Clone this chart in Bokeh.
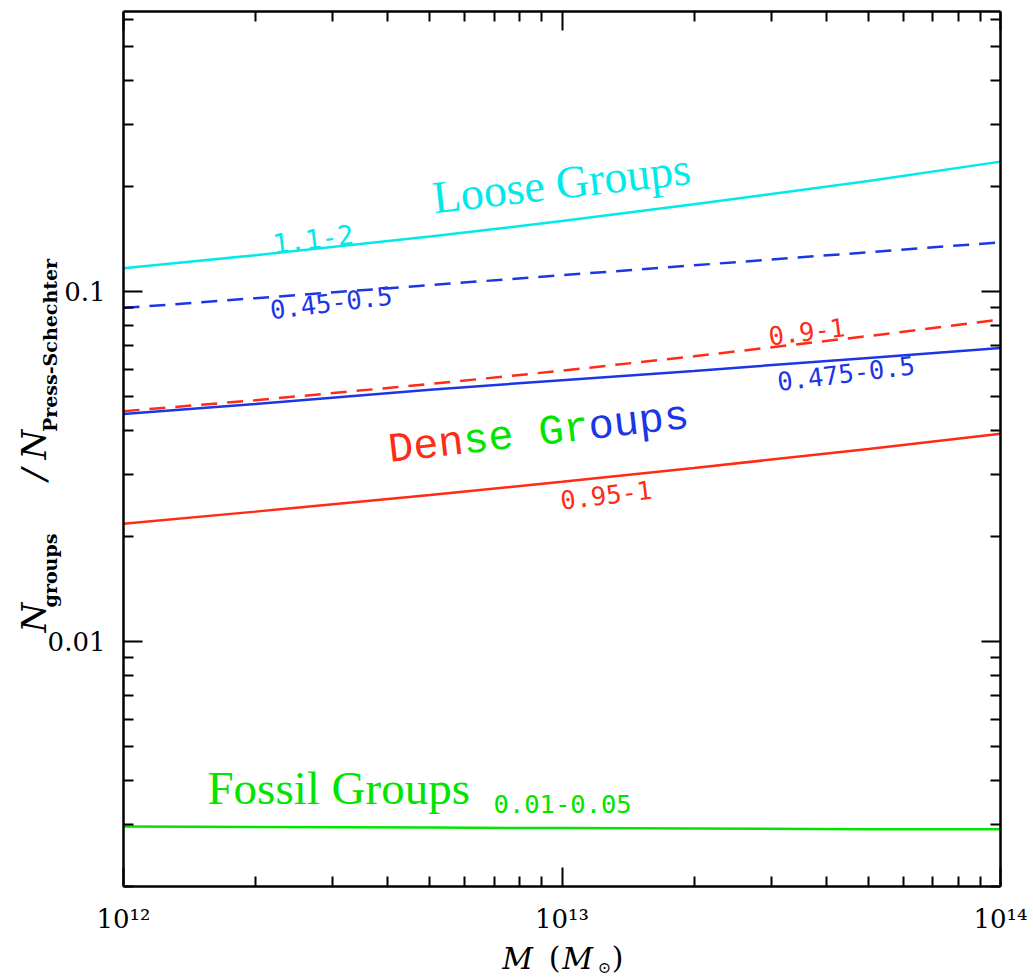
import json
import math

from bokeh.core.properties import value
from bokeh.embed import file_html
from bokeh.models import (ColumnDataSource, CustomJSTickFormatter, FixedTicker,
                          LinearAxis, LinearScale, LogAxis, Range1d)
from bokeh.plotting import figure
from bokeh.resources import INLINE

# ---- data -------------------------------------------------------------
mass = [1e12, 2e12, 5e12, 1e13, 2e13, 5e13, 1e14]

loose_11_2 = [0.1165, 0.127, 0.1435, 0.159, 0.1775, 0.207, 0.235]
blue_045_05 = [0.0897, 0.0957, 0.1043, 0.1113, 0.1188, 0.1295, 0.1382]
red_09_1 = [0.0455, 0.0489, 0.0544, 0.0594, 0.0653, 0.0746, 0.0832]
blue_0475_05 = [0.0447, 0.0477, 0.0524, 0.0558, 0.0593, 0.0646, 0.0690]
red_095_1 = [0.0217, 0.0235, 0.0262, 0.0286, 0.0313, 0.0355, 0.0392]
fossil_001_005 = [0.00296, 0.00295, 0.00294, 0.00293, 0.00292, 0.00291, 0.00291]

x_major = [1e12, 1e13, 1e14]
y_major = [0.01, 0.1]

# curve tags: text, anchor mass, anchor ratio
tag_text = ["1.1-2", "0.45-0.5", "0.9-1", "0.475-0.5", "0.95-1", "0.01-0.05"]
tag_mass = [2.19e12, 2.16e12, 2.96e13, 3.10e13, 9.92e12, 6.98e12]
tag_ratio = [0.1369, 0.0883, 0.0744, 0.0551, 0.02522, 0.003432]

CYAN = "#00eaea"
BLUE = "#1c36e6"
RED = "#ff2b16"
GREEN = "#00e400"

tag_color = [CYAN, BLUE, RED, BLUE, RED, GREEN]
tag_angle = [7, 7, 7, 7, 7, 0]
tag_size = ["27px", "25.5px", "25.5px", "25.5px", "25.5px", "25.5px"]

# ---- figure -----------------------------------------------------------
LEFT, RIGHT, TOP, BOTTOM = 123, 33, 11, 94
W, H = 1033, 980
FW, FH = W - LEFT - RIGHT, H - TOP - BOTTOM

p = figure(width=W, height=H, x_axis_type="log", y_axis_type="log",
           x_range=Range1d(1e12, 1e14), y_range=Range1d(10 ** -2.7, 10 ** -0.2),
           output_backend="svg", toolbar_location=None,
           min_border_left=LEFT, min_border_right=RIGHT,
           min_border_top=TOP, min_border_bottom=BOTTOM)
p.grid.visible = False
p.outline_line_color = None
p.background_fill_color = "white"
p.border_fill_color = "white"

x_minor = [m * 10 ** e for e in (12, 13) for m in range(2, 10)]
y_minor = [m * 10 ** e for e in (-3, -2, -1) for m in range(2, 10)
           if 10 ** -2.7 < m * 10 ** e < 10 ** -0.2]
x_ticker = FixedTicker(ticks=x_major, minor_ticks=x_minor)
y_ticker = FixedTicker(ticks=y_major, minor_ticks=y_minor)

x_fmt = CustomJSTickFormatter(code="""
const sup = {"0":"\u2070","1":"\u00b9","2":"\u00b2","3":"\u00b3","4":"\u2074","5":"\u2075",
             "6":"\u2076","7":"\u2077","8":"\u2078","9":"\u2079","-":"\u207b"};
const e = Math.round(Math.log10(tick));
return "10" + String(e).split("").map(c => sup[c]).join("");
""")
y_fmt = CustomJSTickFormatter(code="""
const e = Math.round(Math.log10(tick));
return tick.toFixed(Math.max(0, -e));
""")
blank_fmt = CustomJSTickFormatter(code="return '';")

top_axis = LogAxis()
right_axis = LogAxis()
p.add_layout(top_axis, "above")
p.add_layout(right_axis, "right")

for ax in list(p.xaxis) + list(p.yaxis):
    ax.axis_line_width = 2.5
    ax.axis_line_color = "black"
    ax.major_tick_in = 19
    ax.major_tick_out = 0
    ax.minor_tick_in = 10
    ax.minor_tick_out = 0
    ax.major_tick_line_width = 2
    ax.minor_tick_line_width = 2
    ax.major_tick_line_color = "black"
    ax.minor_tick_line_color = "black"
    ax.major_label_text_font = "DejaVu Serif"
    ax.major_label_text_font_size = "26px"
    ax.major_label_text_color = "black"

for ax in p.xaxis:
    ax.ticker = x_ticker
for ax in p.yaxis:
    ax.ticker = y_ticker

p.below[0].formatter = x_fmt
p.below[0].major_label_standoff = 17
p.left[0].formatter = y_fmt
p.left[0].major_label_standoff = 18
for ax in (top_axis, right_axis):
    ax.formatter = blank_fmt
    ax.major_label_text_font_size = "1px"
    ax.major_label_standoff = 0

# ---- axis titles --------------------------------------------------------
# Each title is set as tick labels of a bare helper axis running in frame
# pixels, so that italic / upright / subscript parts can sit side by side.
p.extra_x_ranges = {"px": Range1d(0, FW)}
p.extra_y_ranges = {"py": Range1d(0, FH)}
p.extra_x_scales = {"px": LinearScale()}
p.extra_y_scales = {"py": LinearScale()}


def title_axis(kind, side, spots, words, size, style, standoff, orient="horizontal"):
    fmt = CustomJSTickFormatter(code=f"""
const spots = {json.dumps(spots)};
const words = {json.dumps(words)};
const k = spots.indexOf(Math.round(tick));
return k >= 0 ? words[k] : "";
""")
    if kind == "x":
        ax = LinearAxis(x_range_name="px")
    else:
        ax = LinearAxis(y_range_name="py")
    ax.ticker = FixedTicker(ticks=spots, minor_ticks=[])
    ax.formatter = fmt
    ax.axis_line_color = None
    ax.major_tick_line_color = None
    ax.minor_tick_line_color = None
    ax.major_tick_in = 0
    ax.major_tick_out = 0
    ax.minor_tick_in = 0
    ax.minor_tick_out = 0
    ax.major_label_text_font = "DejaVu Serif"
    ax.major_label_text_font_size = f"{size}px"
    ax.major_label_text_font_style = style
    ax.major_label_text_color = "black"
    ax.major_label_standoff = standoff
    ax.major_label_orientation = orient
    p.add_layout(ax, side)
    return ax


# x title:  M  (M_sun)
title_axis("x", "below", [394, 454], ["M", "M"], 30, "italic", 4)
title_axis("x", "below", [431, 494], ["(", ")"], 30, "normal", -39)
title_axis("x", "below", [481], ["\u2299"], 16, "normal", -21)

# y title:  N_groups / N_Press-Schechter
title_axis("y", "left", [316, 541], ["groups", "Press-Schechter"], 19, "bold", -16, "vertical")
title_axis("y", "left", [269, 412, 442], ["N", "/", "N"], 34, "italic", -18, "vertical")

# ---- curves -----------------------------------------------------------
LW = 2.5
p.line(mass, loose_11_2, line_color=CYAN, line_width=LW)
p.line(mass, blue_045_05, line_color=BLUE, line_width=LW, line_dash="16 10")
p.line(mass, red_09_1, line_color=RED, line_width=LW, line_dash="16 10")
p.line(mass, blue_0475_05, line_color=BLUE, line_width=LW)
p.line(mass, red_095_1, line_color=RED, line_width=LW)
p.line(mass, fossil_001_005, line_color=GREEN, line_width=LW)

# ---- curve tags -------------------------------------------------------
tags = ColumnDataSource(dict(x=tag_mass, y=tag_ratio, text=tag_text,
                             color=tag_color, angle=tag_angle, size=tag_size))
p.text(x="x", y="y", text="text", source=tags, text_color="color",
       angle="angle", angle_units="deg", text_font=value("DejaVu Sans Mono"),
       text_font_size="size", text_align="left", text_baseline="alphabetic")

# ---- group names ------------------------------------------------------
p.text(x=[5.07e12], y=[0.1853], text=["Loose Groups"], text_color=CYAN,
       angle=6.5, angle_units="deg", text_font=value("Liberation Serif"),
       text_font_size="46px", text_align="left", text_baseline="alphabetic")

p.text(x=[1.554e12], y=[0.003813], text=["Fossil Groups"], text_color=GREEN,
       text_font=value("Liberation Serif"), text_font_size="47px",
       text_align="left", text_baseline="alphabetic")

# "Dense Groups" in three colours, laid out along one tilted baseline
dense_parts = ["Den", "se Gr", "oups"]
dense_start = [0, 3, 8]
dense_colors = [RED, GREEN, BLUE]
dense_px = 42
dense_ang = 6.5
cw = 0.6 * dense_px
ca, sa = math.cos(math.radians(dense_ang)), math.sin(math.radians(dense_ang))
p.text(x=[4.02e12] * 3, y=[0.0350] * 3, text=dense_parts, text_color=dense_colors,
       x_offset=[i * cw * ca for i in dense_start],
       y_offset=[-i * cw * sa for i in dense_start],
       angle=dense_ang, angle_units="deg", text_font=value("Liberation Mono"),
       text_font_size=f"{dense_px}px", text_align="left", text_baseline="alphabetic")

open("out.html", "w").write(file_html(p, INLINE))
